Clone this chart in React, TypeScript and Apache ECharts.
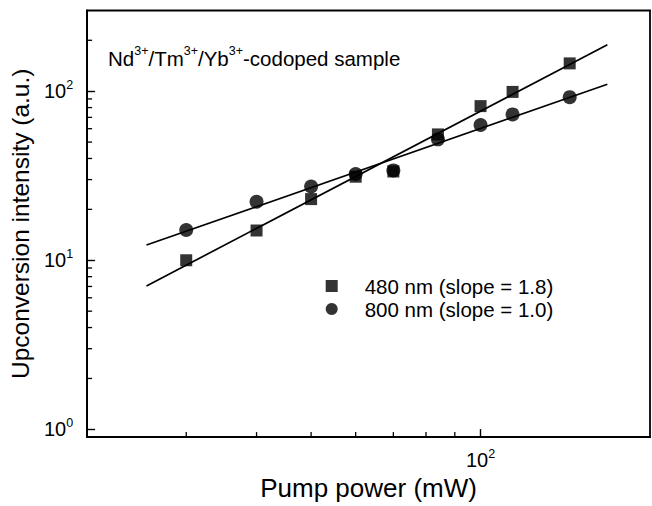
import React, { useEffect, useRef } from "react";
import * as echarts from "echarts";

const FONT = "'Liberation Sans', Arial, Helvetica, sans-serif";

// Pump power (mW)
const X_POWER = [30, 40, 50, 60, 70, 84, 100, 114, 144];
// 480 nm emission (squares)
const Y_480 = [10, 15, 23, 31.2, 33.5, 55.5, 81.6, 99, 146];
// 800 nm emission (circles)
const Y_800 = [15.1, 22.2, 27.3, 32.4, 34, 51.9, 63.1, 72.9, 92.2];

// Fitted straight lines (log-log), end points
const FIT_X = [25.5, 168];
const FIT_480 = [7.05, 188];
const FIT_800 = [12.3, 110];

const SERIES_480 = "480 nm (slope = 1.8)";
const SERIES_800 = "800 nm (slope = 1.0)";

const X_MIN = 20;
const X_MAX = 200;
const Y_MIN = 0.9;
const Y_MAX = 300;

const X_MINOR = [30, 40, 50, 60, 70, 80, 90];
const Y_MINOR = [2, 3, 4, 5, 6, 7, 8, 9, 20, 30, 40, 50, 60, 70, 80, 90, 200];

const isPow10 = (v: number) => {
  const l = Math.log10(v);
  return Math.abs(l - Math.round(l)) < 1e-6;
};

const powLabel = (v: number) =>
  isPow10(v) ? `{b|10}{s|${Math.round(Math.log10(v))}}` : "";

const labelRich = {
  b: { fontSize: 20, fontFamily: FONT, color: "#000", lineHeight: 26 },
  s: { fontSize: 12.5, fontFamily: FONT, color: "#000", lineHeight: 12, verticalAlign: "top" },
};

const titleRich = {
  n: { fontSize: 20.5, fontFamily: FONT, color: "#000", lineHeight: 28 },
  s: { fontSize: 12.5, fontFamily: FONT, color: "#000", lineHeight: 12, verticalAlign: "top" },
};

export default function App() {
  const ref = useRef<HTMLDivElement>(null);

  useEffect(() => {
    if (!ref.current) return;
    const chart = echarts.init(ref.current, null, { renderer: "svg" });

    const minorData = [
      ...X_MINOR.map((v) => [v, Y_MIN, 0]),
      ...Y_MINOR.map((v) => [X_MIN, v, 1]),
    ];

    const option: any = {
      animation: false,
      backgroundColor: "#fff",
      textStyle: { fontFamily: FONT, color: "#000" },
      grid: {
        left: 79,
        top: 10.5,
        width: 571,
        height: 431.5,
        show: true,
        borderColor: "#000",
        borderWidth: 1.8,
        backgroundColor: "transparent",
      },
      xAxis: {
        type: "log",
        logBase: 10,
        min: X_MIN,
        max: X_MAX,
        name: "Pump power (mW)",
        nameLocation: "middle",
        nameGap: 31,
        nameTextStyle: { fontSize: 26, color: "#000", fontFamily: FONT },
        axisLine: { show: true, lineStyle: { color: "#000", width: 1.8 } },
        axisTick: { show: true, inside: true, length: 8, lineStyle: { color: "#000", width: 1.4 } },
        axisLabel: { margin: 10, formatter: powLabel, rich: labelRich, showMinLabel: false, showMaxLabel: false },
        splitLine: { show: false },
      },
      yAxis: {
        type: "log",
        logBase: 10,
        min: Y_MIN,
        max: Y_MAX,
        name: "Upconversion intensity (a.u.)",
        nameLocation: "middle",
        nameGap: 38,
        nameTextStyle: { fontSize: 24.5, color: "#000", fontFamily: FONT },
        axisLine: { show: true, lineStyle: { color: "#000", width: 1.8 } },
        axisTick: { show: true, inside: true, length: 8, lineStyle: { color: "#000", width: 1.4 } },
        axisLabel: { margin: 14, formatter: powLabel, rich: labelRich, showMinLabel: false, showMaxLabel: false },
        splitLine: { show: false },
      },
      legend: {
        orient: "vertical",
        left: 320.7,
        top: 269.5,
        itemWidth: 12,
        itemHeight: 12,
        itemGap: 0,
        textStyle: { fontSize: 20.5, lineHeight: 23, padding: [0, 0, 0, 22], color: "#000", fontFamily: FONT },
        data: [
          { name: SERIES_480, icon: "rect" },
          { name: SERIES_800, icon: "circle" },
        ],
      },
      graphic: [
        {
          type: "text",
          left: 108,
          top: 44.5,
          style: {
            text: "{n|Nd}{s|3+}{n|/Tm}{s|3+}{n|/Yb}{s|3+}{n|-codoped sample}",
            rich: titleRich,
            fill: "#000",
          },
        },
      ],
      series: [
        {
          type: "custom",
          silent: true,
          clip: false,
          data: minorData,
          renderItem: (params: any, api: any) => {
            const p = api.coord([api.value(0), api.value(1)]);
            const horiz = api.value(2) === 1;
            return {
              type: "line",
              shape: horiz
                ? { x1: p[0], y1: p[1], x2: p[0] + 5, y2: p[1] }
                : { x1: p[0], y1: p[1], x2: p[0], y2: p[1] - 5 },
              style: { stroke: "#000", lineWidth: 1.3 },
            };
          },
          z: 1,
        },
        {
          type: "line",
          name: "fit480",
          data: FIT_X.map((x, i) => [x, FIT_480[i]]),
          showSymbol: false,
          symbol: "none",
          lineStyle: { color: "#000", width: 1.7 },
          z: 2,
        },
        {
          type: "line",
          name: "fit800",
          data: FIT_X.map((x, i) => [x, FIT_800[i]]),
          showSymbol: false,
          symbol: "none",
          lineStyle: { color: "#000", width: 1.7 },
          z: 2,
        },
        {
          type: "scatter",
          name: SERIES_480,
          data: X_POWER.map((x, i) => [x, Y_480[i]]),
          symbol: "rect",
          symbolSize: 12,
          itemStyle: { color: "#000" },
          z: 3,
        },
        {
          type: "scatter",
          name: SERIES_800,
          data: X_POWER.map((x, i) => [x, Y_800[i]]),
          symbol: "circle",
          symbolSize: 14,
          itemStyle: { color: "#000" },
          z: 3,
        },
      ],
    };

    chart.setOption(option);
    return () => chart.dispose();
  }, []);

  return (
    <div
      ref={ref}
      style={{ position: "fixed", left: 0, top: 0, width: 652, height: 506, background: "#fff" }}
    />
  );
}
